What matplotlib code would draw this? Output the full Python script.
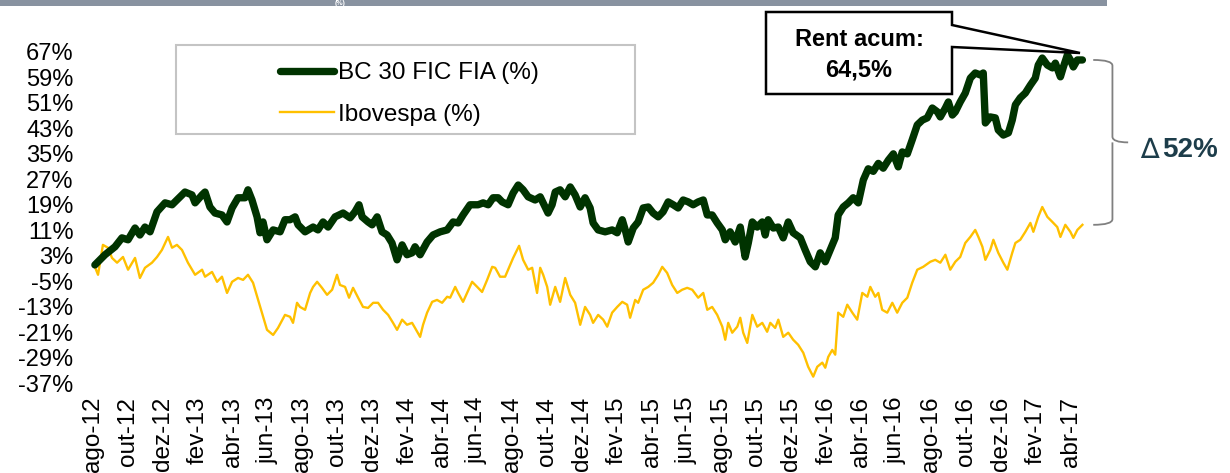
import matplotlib
matplotlib.use("Agg")
import matplotlib.pyplot as plt
from matplotlib.patches import Rectangle, Polygon, PathPatch
from matplotlib.path import Path

plt.rcParams['font.family'] = ['Liberation Sans', 'DejaVu Sans']

# months since ago-12
fund_t = [0.11, 0.69, 1.26, 1.66, 2.01, 2.41, 2.69, 2.98, 3.27, 3.67, 4.13, 4.53, 4.81, 5.27, 5.67, 5.85,
          6.25, 6.42, 6.70, 6.99, 7.39, 7.68, 7.97, 8.31, 8.71, 8.88, 9.11, 9.40, 9.57, 9.74, 9.97, 10.32,
          10.72, 11.00, 11.29, 11.58, 11.75, 12.15, 12.61, 12.89, 13.18, 13.47, 13.87, 14.33, 14.73, 15.01,
          15.24, 15.42, 15.76, 15.99, 16.28, 16.56, 16.85, 17.13, 17.42, 17.71, 17.99, 18.28, 18.45, 18.74,
          19.14, 19.48, 19.89, 20.29, 20.63, 20.92, 21.20, 21.60, 22.06, 22.35, 22.64, 22.92, 23.21, 23.44,
          23.78, 24.07, 24.36, 24.64, 24.93, 25.33, 25.62, 25.90, 26.07, 26.30, 26.48, 26.76, 27.05, 27.34,
          27.62, 27.91, 28.19, 28.48, 28.65, 28.94, 29.34, 29.74, 30.03, 30.32, 30.49, 30.66, 30.95, 31.23,
          31.52, 31.81, 32.09, 32.38, 32.66, 32.95, 33.24, 33.52, 33.81, 34.10, 34.38, 34.67, 34.96, 35.19,
          35.47, 35.76, 36.05, 36.22, 36.50, 36.79, 37.08, 37.36, 37.54, 37.77, 38.05, 38.34, 38.51, 38.68,
          38.97, 39.26, 39.54, 39.83, 40.11, 40.52, 40.80, 41.09, 41.38, 41.66, 41.95, 42.23, 42.52, 42.69,
          42.98, 43.27, 43.55, 43.84, 44.13, 44.41, 44.70, 44.99, 45.27, 45.56, 45.85, 46.13, 46.36, 46.65,
          46.93, 47.22, 47.51, 47.79, 48.08, 48.37, 48.54, 48.83, 49.00, 49.23, 49.40, 49.68, 49.97, 50.26,
          50.54, 50.83, 51.00, 51.12, 51.40, 51.69, 51.86, 52.15, 52.44, 52.66, 52.84, 53.12, 53.41, 53.70,
          53.98, 54.15, 54.38, 54.67, 54.96, 55.13, 55.42, 55.59, 55.82, 55.99, 56.16, 56.39, 56.68]
fund = [0.1, 3.3, 5.8, 8.6, 8.0, 11.7, 9.5, 12.0, 10.5, 16.8, 19.6, 19.0, 20.5, 23.0, 22.1, 19.6,
        22.1, 23.0, 18.3, 16.4, 15.8, 13.6, 18.0, 21.2, 21.2, 23.7, 20.5, 15.2, 10.2, 13.6, 8.0, 11.1,
        10.5, 14.3, 14.3, 15.2, 12.7, 10.5, 12.0, 11.1, 13.6, 12.0, 15.2, 16.4, 14.9, 16.8,
        19.0, 15.2, 13.6, 12.7, 15.2, 10.5, 9.5, 7.0, 1.7, 6.4, 3.3, 3.9, 5.8, 3.3,
        7.3, 9.5, 10.5, 11.1, 13.6, 13.3, 15.8, 19.0, 19.0, 19.6, 19.0, 21.2, 21.2, 19.9,
        19.0, 22.7, 25.2, 23.7, 21.5, 20.5, 21.5, 18.3, 16.4, 19.0, 23.0, 23.7, 21.5, 24.6,
        22.1, 18.3, 21.2, 18.0, 13.3, 11.1, 10.5, 11.1, 10.2, 14.3, 11.1, 7.3, 11.7, 13.6,
        18.0, 18.3, 16.4, 15.2, 16.8, 19.9, 19.0, 18.0, 20.5, 19.9, 19.0, 19.9, 20.5, 15.8,
        15.8, 13.3, 11.1, 8.0, 10.5, 7.3, 12.0, 2.6, 7.0, 13.6, 12.0, 13.6, 9.5, 14.3,
        11.7, 12.0, 8.6, 13.6, 10.2, 8.6, 4.8, 1.1, -0.5, 3.9, 1.1, 4.8, 8.6, 15.8,
        18.3, 19.6, 21.2, 19.6, 26.8, 30.3, 29.5, 32.0, 30.5, 33.0, 35.0, 30.9, 35.6, 35.0,
        39.4, 44.1, 45.6, 46.3, 49.4, 48.2, 46.6, 49.4, 51.3, 47.2, 48.2, 51.3, 54.1, 58.8,
        60.4, 59.8, 60.4, 44.7, 46.6, 46.3, 42.5, 40.9, 41.6, 45.6, 50.4, 52.6, 54.1, 56.6,
        58.8, 62.9, 65.1, 62.9, 62.0, 63.5, 59.2, 62.3, 66.1, 64.5, 62.3, 64.5, 64.5]

ibov_t = [0.11, 0.29, 0.57, 0.86, 1.09, 1.38, 1.72, 2.01, 2.41, 2.69, 2.98, 3.38, 3.67, 3.95, 4.30, 4.53,
          4.81, 5.10, 5.44, 5.85, 6.25, 6.42, 6.82, 7.11, 7.39, 7.68, 7.97, 8.31, 8.60, 8.88, 9.17, 9.46,
          9.68, 9.97, 10.32, 10.60, 11.00, 11.29, 11.46, 11.69, 11.86, 12.15, 12.44, 12.61, 12.84, 13.12,
          13.41, 13.70, 13.98, 14.15, 14.44, 14.67, 14.90, 15.19, 15.47, 15.76, 16.05, 16.33, 16.62, 16.91,
          17.19, 17.42, 17.71, 17.99, 18.28, 18.45, 18.74, 18.91, 19.14, 19.43, 19.71, 20.00, 20.29, 20.46,
          20.75, 20.92, 21.20, 21.43, 21.72, 22.01, 22.29, 22.58, 22.87, 23.04, 23.32, 23.61, 23.90, 24.07,
          24.41, 24.64, 24.93, 25.16, 25.44, 25.62, 25.79, 26.02, 26.19, 26.48, 26.76, 27.05, 27.34, 27.62,
          27.91, 28.19, 28.48, 28.65, 28.94, 29.23, 29.46, 29.74, 30.03, 30.32, 30.60, 30.77, 31.06, 31.23,
          31.52, 31.81, 32.09, 32.38, 32.61, 32.89, 33.18, 33.47, 33.75, 34.04, 34.33, 34.67, 34.96, 35.19,
          35.47, 35.76, 36.05, 36.22, 36.39, 36.62, 36.91, 37.08, 37.25, 37.48, 37.77, 38.05, 38.34, 38.62,
          38.80, 39.08, 39.26, 39.54, 39.83, 40.11, 40.40, 40.69, 40.97, 41.26, 41.49, 41.78, 41.95, 42.12,
          42.35, 42.52, 42.69, 42.98, 43.21, 43.50, 43.78, 44.07, 44.36, 44.53, 44.81, 44.99, 45.21, 45.50,
          45.79, 46.07, 46.36, 46.65, 46.93, 47.22, 47.56, 47.97, 48.25, 48.54, 48.83, 49.11, 49.40, 49.68,
          49.97, 50.26, 50.54, 50.72, 50.95, 51.12, 51.40, 51.58, 51.86, 52.15, 52.38, 52.66, 52.84, 53.12,
          53.41, 53.70, 53.87, 54.15, 54.38, 54.67, 54.96, 55.24, 55.42, 55.70, 55.99, 56.16, 56.39, 56.68]
ibov = [-0.5, -3.0, 6.4, 5.5, 2.3, 0.8, 2.6, -1.4, 2.3, -4.0, -0.8, 0.8, 2.6, 4.8, 8.9, 5.5,
        6.4, 4.8, 0.8, -3.0, -1.4, -3.6, -2.1, -5.2, -3.6, -8.7, -5.2, -4.0, -4.6, -3.0, -5.5, -10.9,
        -14.9, -20.3, -21.9, -19.7, -15.6, -16.2, -18.1, -11.8, -13.1, -14.0, -8.7, -6.8, -5.2, -7.1,
        -9.3, -7.7, -3.0, -6.2, -6.8, -10.2, -7.1, -10.2, -13.1, -13.4, -11.8, -11.8, -14.0, -15.6,
        -18.1, -20.3, -17.1, -18.7, -18.1, -19.7, -22.5, -18.7, -14.9, -11.5, -10.9, -11.8, -9.9, -10.2,
        -6.8, -8.7, -11.5, -8.7, -5.2, -6.8, -8.4, -4.6, -0.5, -0.8, -3.6, -3.6, 0.1, 2.3,
        6.1, 1.7, -1.4, -0.8, -8.7, -0.8, -3.0, -6.8, -12.4, -6.8, -11.5, -4.0, -9.3, -11.8,
        -18.7, -13.1, -15.6, -18.1, -15.6, -17.1, -19.3, -14.9, -13.1, -11.5, -12.4, -16.5, -10.9, -11.8,
        -7.7, -6.8, -5.5, -3.0, -0.5, -2.4, -6.2, -8.7, -7.7, -7.1, -7.7, -10.2, -8.7, -14.0,
        -13.1, -15.6, -19.3, -23.4, -18.1, -21.2, -19.3, -16.5, -21.2, -24.4, -15.6, -19.3, -18.1, -20.9,
        -18.1, -19.7, -17.1, -22.5, -21.2, -23.4, -25.0, -27.5, -31.9, -35.0, -31.9, -30.6, -32.2, -28.8,
        -26.6, -28.1, -14.9, -16.2, -12.4, -14.9, -17.1, -8.7, -9.9, -6.8, -9.9, -8.7, -14.0, -14.9,
        -11.8, -14.9, -11.8, -10.2, -5.5, -1.4, -0.5, 1.1, 1.7, 0.8, 3.3, -1.4, 1.1, 2.6,
        7.0, 8.9, 11.1, 8.9, 5.8, 1.7, 4.8, 8.0, 3.9, 0.8, -1.4, 3.9, 7.0, 8.0,
        10.5, 13.3, 10.5, 15.2, 18.3, 15.2, 13.6, 12.0, 8.9, 12.7, 10.5, 8.6, 11.1, 12.7]

month_labels = ["ago-12", "out-12", "dez-12", "fev-13", "abr-13", "jun-13", "ago-13", "out-13",
                "dez-13", "fev-14", "abr-14", "jun-14", "ago-14", "out-14", "dez-14", "fev-15",
                "abr-15", "jun-15", "ago-15", "out-15", "dez-15", "fev-16", "abr-16", "jun-16",
                "ago-16", "out-16", "dez-16", "fev-17", "abr-17"]
y_ticks = [67, 59, 51, 43, 35, 27, 19, 11, 3, -5, -13, -21, -29, -37]

GREEN = "#003300"
YELLOW = "#FFC000"
W, H = 1230, 473


def fx(x):
    return x / W


def fy(y):
    return 1 - y / H


fig = plt.figure(figsize=(12.3, 4.73), dpi=100)
ax = fig.add_axes([fx(79), fy(383), fx(1088 - 79), (383 - 52) / H])

ax.plot(ibov_t, ibov, color=YELLOW, lw=1.7, label="Ibovespa (%)", zorder=2)
ax.plot(fund_t, fund, color=GREEN, lw=5.3, label="BC 30 FIC FIA (%)", zorder=3,
        solid_joinstyle="round", solid_capstyle="round")

ax.set_xlim(-0.8, 57)
ax.set_ylim(-37, 67)
ax.set_yticks(y_ticks)
ax.set_yticklabels([f"{v}%" for v in y_ticks])
ax.set_xticks(range(0, 2 * len(month_labels), 2))
ax.set_xticklabels(month_labels, rotation=90, ha="center", va="top")
ax.tick_params(axis="x", length=0, labelsize=17.5, pad=10)
ax.tick_params(axis="y", length=0, labelsize=17, pad=4)
for s in ax.spines.values():
    s.set_visible(False)

# legend box
h, l = ax.get_legend_handles_labels()
fig.add_artist(Rectangle((fx(176), fy(134)), fx(635 - 176), (134 - 45) / H,
                         transform=fig.transFigure, fill=False, ec="#c4c4c4", lw=1.5))
ax.legend(h[::-1], l[::-1], frameon=False, loc="upper left", bbox_to_anchor=(fx(268), fy(50)),
          bbox_transform=fig.transFigure, fontsize=17.5, handlelength=2.2, handletextpad=0.2,
          labelspacing=0.8, borderpad=0)

# top bar
fig.add_artist(Rectangle((0, fy(6)), fx(1107), 6 / H, transform=fig.transFigure,
                         color="#8892a0", lw=0))
fig.text(fx(335), fy(5), "(%)", color="white", fontsize=5, fontweight="bold", va="baseline")

# callout box
verts = [(766, 12), (952, 12), (952, 25), (1080, 53), (952, 47), (952, 94), (766, 94)]
fig.add_artist(Polygon([(fx(x), fy(y)) for x, y in verts], closed=True, transform=fig.transFigure,
                       fc="white", ec="black", lw=1.8, zorder=5))
fig.text(fx(859), fy(40), "Rent acum:", ha="center", va="center", fontsize=17,
         fontweight="bold", zorder=6)
fig.text(fx(859), fy(70), "64,5%", ha="center", va="center", fontsize=17,
         fontweight="bold", zorder=6)

# brace between the end values
top, bot = fund[-1], ibov[-1]
mid = (top + bot) / 2
x0, x1, x2 = 57.3, 58.4, 59.3
d = 1.8
bv = [(x0, top), (x1, top), (x1, top - d), (x1, mid + d), (x1, mid), (x2, mid),
      (x1, mid), (x1, mid - d), (x1, bot + d), (x1, bot), (x0, bot)]
bc = [Path.MOVETO, Path.CURVE3, Path.CURVE3, Path.LINETO, Path.CURVE3, Path.LINETO,
      Path.MOVETO, Path.CURVE3, Path.LINETO, Path.CURVE3, Path.CURVE3]
ax.add_patch(PathPatch(Path(bv, bc), fill=False, ec="#808080", lw=1.3, clip_on=False))

fig.text(fx(1140), fy(150), "\u2206", color="#1d3d4a", fontsize=20, ha="left", va="center",
         family=["DejaVu Sans"])
fig.text(fx(1162), fy(150), "52%", color="#1d3d4a", fontsize=20, fontweight="bold",
         ha="left", va="center")

fig.savefig("out.png", dpi=100)
